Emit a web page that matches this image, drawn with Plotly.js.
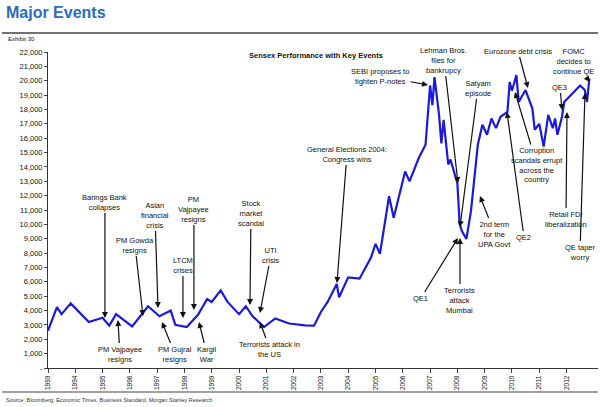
<!DOCTYPE html>
<html>
<head>
<meta charset="utf-8">
<script src="https://cdn.plot.ly/plotly-3.0.1.min.js"></script>
<style>body{margin:0;background:#fff}#chart{width:600px;height:407px}</style>
</head>
<body>
<div id="chart"></div>
<script>
// Sensex level
const dates = ['1993-01','1993-05','1993-07','1993-11','1994-07','1995-01','1995-04','1995-07','1996-02','1996-09',
  '1997-02','1997-07','1997-09','1998-02','1998-07','1998-11','1999-01','1999-05','1999-08','2000-01',
  '2000-04','2000-07','2000-12','2001-05','2001-11','2002-06','2002-10','2003-01','2003-04','2003-08',
  '2003-09','2004-01','2004-06','2004-11','2005-01','2005-03','2005-07','2005-09','2006-02','2006-04',
  '2006-08','2006-11','2007-01','2007-02','2007-03','2007-05','2007-06','2007-07','2007-09','2007-10',
  '2008-01','2008-02','2008-03','2008-05','2008-07','2008-10','2008-12','2009-02','2009-04','2009-06',
  '2009-08','2009-11','2009-12','2010-01','2010-03','2010-04','2010-07','2010-10','2010-11','2011-01',
  '2011-03','2011-05','2011-07','2011-08','2011-09','2011-11','2011-12','2012-03','2012-05','2012-07',
  '2012-09','2012-10','2012-11'];
const sensex = [2600,4240,3750,4500,3200,3500,2950,3750,2900,4300,
  3600,4000,3000,2850,3700,4800,4600,5400,4600,3750,
  4300,3600,2850,3450,3100,2970,2950,3900,4600,5850,
  4930,6310,6220,7690,8640,7950,11960,10460,13680,12990,
  14600,15550,19670,18300,20250,17620,15640,17280,14170,14510,
  12870,10020,9540,8980,10920,15550,16930,16240,17370,16700,
  17490,17830,19900,19300,20390,18520,19350,18060,16590,17000,
  15410,17620,16700,17370,16240,17490,18520,18980,19350,19670,
  19350,18520,20140];

const yearLabels = ['1993','1994','1995','1996','1997','1998','1999','2000','2001','2002',
  '2003','2004','2005','2006','2007','2008','2009','2010','2011','2012'];
const yTickVals = [0,1000,2000,3000,4000,5000,6000,7000,8000,9000,10000,11000,
  12000,13000,14000,15000,16000,17000,18000,19000,20000,21000,22000];
const yTickText = yTickVals.map(v => v === 0 ? '-' : v.toLocaleString('en-US'));

// events: label, text centre (px), arrow tip (px)
const events = [
  ['Barings Bank<br>collapses', 105, 202, 105, 318],
  ['PM Gowda<br>resigns', 135, 245, 143, 316],
  ['Asian<br>financial<br>crisis', 155, 215, 158, 308],
  ['PM<br>Vajpayee<br>resigns', 194, 209, 194, 310],
  ['LTCM<br>crises', 183, 265, 183, 318],
  ['Stock<br>market<br>scandal', 251, 213, 250, 305],
  ['UTI<br>crisis', 271, 255, 260, 313],
  ['PM Vajpayee<br>resigns', 120, 354, 118, 320],
  ['PM Gujral<br>resigns', 175, 354, 162, 322],
  ['Kargil<br>War', 207, 354, 199, 322],
  ['Terrorists attack in<br>the US', 270, 349, 260, 322],
  ['General Elections 2004:<br>Congress wins', 347, 154, 337, 283],
  ['SEBI proposes to<br>tighten P-notes', 380, 76, 428, 85],
  ['Lehman Bros.<br>files for<br>bankrupcy', 444, 60, 458, 183],
  ['Satyam<br>episode', 478, 88, 460, 227],
  ['QE1', 421, 298, 458, 238],
  ['Terrorists<br>attack<br>Mumbai', 460, 300, 460, 238],
  ['2nd term<br>for the<br>UPA Govt', 495, 234, 480, 196],
  ['QE2', 524, 237, 507, 112],
  ['Eurozone debt crisis', 518, 51, 528, 88],
  ['Corruption<br>scandals errupt<br>across the<br>country', 537, 165, 515, 92],
  ['QE3', 560, 87, 562, 110],
  ['FOMC<br>decides to<br>continue QE', 574, 61, 590, 82],
  ['Retail FDI<br>liberalization', 566, 219, 567, 112],
  ['QE taper<br>worry', 580, 252, 585, 93],
];

const L = 48, R = 2, T = 52, B = 39, W = 600, H = 407;
const pw = W - L - R, ph = H - T - B;
const x0 = new Date('1993-01-01').getTime(), x1 = new Date('2013-02-25').getTime();
const pxToX = px => new Date(x0 + (px - L) / pw * (x1 - x0)).toISOString().slice(0, 10);
const pyToY = py => (H - B - py) / ph * 22000;
const pxPaper = px => (px - L) / pw;
const pyPaper = py => (H - B - py) / ph;

const font = { family: 'Liberation Sans, Arial, sans-serif', size: 7.5, color: '#111' };
const annotations = events.map(([t, tx, ty, ax, ay]) => ({
  x: pxToX(ax), y: pyToY(ay), xref: 'x', yref: 'y',
  text: t, showarrow: true, arrowhead: 2, arrowsize: 1, arrowwidth: 1.2, arrowcolor: '#111',
  ax: tx - ax, ay: ty - ay, font, align: 'center', standoff: 0
}));
annotations.push(
  { xref: 'paper', yref: 'paper', x: pxPaper(4), y: pyPaper(12), xanchor: 'left', yanchor: 'middle', showarrow: false,
    text: '<b>Major Events</b>', font: { family: 'Liberation Sans, Arial', size: 16, color: '#2b6cb8' } },
  { xref: 'paper', yref: 'paper', x: pxPaper(6), y: pyPaper(39), xanchor: 'left', yanchor: 'middle', showarrow: false,
    text: 'Exhibit 30', font: { family: 'Liberation Sans, Arial', size: 6, color: '#111' } },
  { xref: 'paper', yref: 'paper', x: pxPaper(316), y: pyPaper(55), xanchor: 'center', yanchor: 'middle', showarrow: false,
    text: '<b>Sensex Performance with Key Events</b>', font: { family: 'Liberation Sans, Arial', size: 7.5, color: '#111' } },
  { xref: 'paper', yref: 'paper', x: pxPaper(4), y: pyPaper(400), xanchor: 'left', yanchor: 'middle', showarrow: false,
    text: 'Source: Bloomberg, Economic Times, Business Standard, Morgan Stanley Research', font: { family: 'Liberation Sans, Arial', size: 5.5, color: '#333' } }
);

const shapes = [
  { type: 'line', xref: 'paper', yref: 'paper', x0: pxPaper(2), x1: pxPaper(598), y0: pyPaper(33), y1: pyPaper(33), line: { color: '#444', width: 1.5 } },
  { type: 'line', xref: 'paper', yref: 'paper', x0: pxPaper(2), x1: pxPaper(598), y0: pyPaper(392), y1: pyPaper(392), line: { color: '#444', width: 1.2 } }
];

const trace = { x: dates, y: sensex, type: 'scatter', mode: 'lines', line: { color: '#1a1ad8', width: 2.2 }, hoverinfo: 'none' };

const layout = {
  width: W, height: H,
  margin: { l: L, r: R, t: T, b: B },
  showlegend: false,
  paper_bgcolor: '#fff', plot_bgcolor: '#fff',
  xaxis: {
    type: 'date', range: ['1993-01-01', '2013-02-25'],
    tickvals: yearLabels.map(y => y + '-01-01'), ticktext: yearLabels, tickangle: -90,
    ticks: 'outside', ticklen: 4, showline: true, linecolor: '#333', showgrid: false, zeroline: false,
    tickfont: { family: 'Liberation Sans, Arial', size: 6.5, color: '#111' }
  },
  yaxis: {
    range: [0, 22000], tickvals: yTickVals, ticktext: yTickText,
    ticks: 'outside', ticklen: 3, showline: true, linecolor: '#333', showgrid: false, zeroline: false,
    tickfont: { family: 'Liberation Sans, Arial', size: 7.5, color: '#111' }
  },
  annotations, shapes
};

Plotly.newPlot('chart', [trace], layout, { displayModeBar: false, staticPlot: true });
</script>
</body>
</html>
